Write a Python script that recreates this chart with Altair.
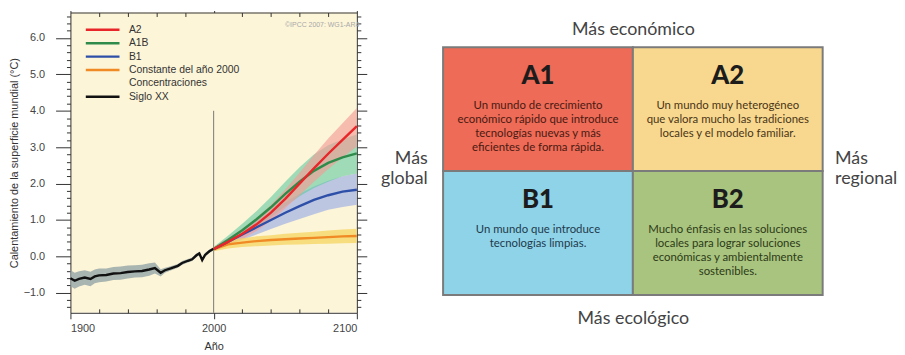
import altair as alt
import pandas as pd

# ---------------- Left panel data ----------------
hist_years = [1900, 1903, 1906, 1910, 1914, 1917, 1920, 1925, 1930, 1935, 1940, 1945, 1950, 1955,
              1959, 1963, 1966, 1970, 1975, 1978, 1982, 1985, 1988, 1990, 1992, 1994, 1997, 2000]
hist_mean = [-0.60, -0.67, -0.62, -0.58, -0.62, -0.55, -0.52, -0.51, -0.47, -0.46, -0.43, -0.41, -0.40, -0.36,
             -0.32, -0.45, -0.38, -0.33, -0.26, -0.18, -0.12, -0.08, 0.03, 0.08, -0.10, 0.04, 0.14, 0.21]
hist_low = [-0.82, -0.89, -0.83, -0.78, -0.82, -0.74, -0.71, -0.69, -0.65, -0.64, -0.61, -0.58, -0.57, -0.53,
            -0.47, -0.55, -0.45, -0.39, -0.31, -0.23, -0.17, -0.13, -0.02, 0.03, -0.15, -0.01, 0.09, 0.17]
hist_high = [-0.38, -0.45, -0.41, -0.38, -0.42, -0.36, -0.33, -0.33, -0.29, -0.28, -0.25, -0.24, -0.23, -0.19,
             -0.17, -0.35, -0.31, -0.27, -0.21, -0.13, -0.07, -0.03, 0.08, 0.13, -0.05, 0.09, 0.19, 0.25]

scen_years = [2000, 2010, 2020, 2030, 2040, 2050, 2060, 2070, 2080, 2090, 2100]
a2_mean = [0.20, 0.40, 0.62, 0.88, 1.20, 1.58, 2.00, 2.42, 2.82, 3.20, 3.58]
a2_low = [0.14, 0.30, 0.48, 0.70, 0.98, 1.32, 1.68, 2.05, 2.40, 2.72, 3.02]
a2_high = [0.26, 0.50, 0.76, 1.06, 1.42, 1.84, 2.30, 2.78, 3.24, 3.66, 4.08]
a1b_mean = [0.20, 0.45, 0.72, 1.02, 1.35, 1.72, 2.05, 2.35, 2.57, 2.72, 2.83]
a1b_low = [0.14, 0.33, 0.55, 0.80, 1.08, 1.38, 1.65, 1.88, 2.05, 2.20, 2.28]
a1b_high = [0.26, 0.57, 0.90, 1.25, 1.63, 2.05, 2.45, 2.80, 3.05, 3.22, 3.35]
b1_mean = [0.20, 0.40, 0.60, 0.80, 1.00, 1.20, 1.38, 1.55, 1.68, 1.78, 1.83]
b1_low = [0.14, 0.30, 0.46, 0.60, 0.75, 0.90, 1.03, 1.16, 1.28, 1.36, 1.42]
b1_high = [0.26, 0.50, 0.74, 0.98, 1.24, 1.48, 1.72, 1.92, 2.08, 2.20, 2.28]
const_mean = [0.20, 0.33, 0.38, 0.42, 0.45, 0.47, 0.49, 0.51, 0.53, 0.55, 0.56]
const_low = [0.14, 0.22, 0.26, 0.28, 0.30, 0.32, 0.33, 0.34, 0.35, 0.36, 0.37]
const_high = [0.26, 0.44, 0.50, 0.55, 0.58, 0.62, 0.65, 0.68, 0.71, 0.74, 0.76]

series_names = ["A2", "A1B", "B1", "Constante del año 2000", "Concentraciones", "Siglo XX"]
line_colors = ["#E8262A", "#2E8B4A", "#2D4FA8", "#F08A24", "transparent", "#111111"]

x_major = [1900, 2000, 2100]
x_minor = [1920, 1940, 1960, 1980, 2020, 2040, 2060, 2080]
y_major = [-1.0, 0.0, 1.0, 2.0, 3.0, 4.0, 5.0, 6.0]
y_minor = [-1.4, -1.2, -0.8, -0.6, -0.4, -0.2, 0.2, 0.4, 0.6, 0.8, 1.2, 1.4, 1.6, 1.8,
           2.2, 2.4, 2.6, 2.8, 3.2, 3.4, 3.6, 3.8, 4.2, 4.4, 4.6, 4.8, 5.2, 5.4, 5.6, 5.8, 6.2, 6.4, 6.6]
x_domain = [1900, 2100]
y_domain = [-1.55, 6.7]
divider = pd.DataFrame({"year": [2000], "top": [4.0], "bottom": [y_domain[0]]})

# ---------------- Right panel data ----------------
quad_cols = ["global", "regional", "global", "regional"]
quad_rows = ["económico", "económico", "ecológico", "ecológico"]
quad_codes = ["A1", "A2", "B1", "B2"]
quad_descs = [
    "Un mundo de crecimiento\neconómico rápido que introduce\ntecnologías nuevas y más\neficientes de forma rápida.",
    "Un mundo muy heterogéneo\nque valora mucho las tradiciones\nlocales y el modelo familiar.",
    "Un mundo que introduce\ntecnologías limpias.",
    "Mucho énfasis en las soluciones\nlocales para lograr soluciones\neconómicas y ambientalmente\nsostenibles.",
]
quad_fill = ["#EE6B57", "#F8D88E", "#8FD3E8", "#A9C47E"]
quad_text = ["#4A1A12", "#4A3518", "#1E3A4C", "#2C3A18"]

# ---------------- Build frames ----------------
def frame(years, mean, low, high, name):
    return pd.DataFrame({"year": years, "value": mean, "low": low, "high": high, "series": name})

hist_df = frame(hist_years, hist_mean, hist_low, hist_high, "Siglo XX")
const_df = frame(scen_years, const_mean, const_low, const_high, "Constante del año 2000")
b1_df = frame(scen_years, b1_mean, b1_low, b1_high, "B1")
a1b_df = frame(scen_years, a1b_mean, a1b_low, a1b_high, "A1B")
a2_df = frame(scen_years, a2_mean, a2_low, a2_high, "A2")
lines_df = pd.concat([hist_df, const_df, b1_df, a1b_df, a2_df], ignore_index=True)

W_LEFT, H = 289, 303

xs = alt.Scale(domain=x_domain, nice=False, zero=False)
ys = alt.Scale(domain=y_domain, nice=False, zero=False)

AX = "#333333"
FONT = "Liberation Sans"
common = dict(grid=False, tickColor=AX, domainColor=AX, labelFont=FONT, titleFont=FONT)

x_bottom = alt.Axis(orient="bottom", values=x_major, format="d", tickSize=6, labelPadding=4,
                    labelFontSize=11, labelColor="#444", title="Año", titleFontSize=11,
                    titleFontWeight="normal", titleColor="#333", titlePadding=7, **common)
x_bottom_minor = alt.Axis(orient="bottom", values=x_minor, labels=False, tickSize=4, offset=-4,
                          domain=False, title=None, **common)
x_top = alt.Axis(orient="top", values=x_major, labels=False, tickSize=2, title=None, **common)
x_top_minor = alt.Axis(orient="top", values=x_minor, labels=False, tickSize=4, offset=-4,
                       domain=False, title=None, **common)
y_left = alt.Axis(orient="left", values=y_major, format=".1f", tickSize=15, labelPadding=11,
                  labelFontSize=11, labelColor="#444",
                  title="Calentamiento de la superficie mundial (°C)", titleFontSize=11,
                  titleFontWeight="normal", titleColor="#333", titlePadding=4, **common)
y_left_minor = alt.Axis(orient="left", values=y_minor, labels=False, tickSize=4, domain=False,
                        title=None, **common)
y_right = alt.Axis(orient="right", values=y_major, labels=False, tickSize=10, title=None, **common)
y_right_minor = alt.Axis(orient="right", values=y_minor, labels=False, tickSize=4, domain=False,
                         title=None, **common)


def band(df, color, xaxis, yaxis, opacity=0.7):
    return alt.Chart(df).mark_area(color=color, opacity=opacity).encode(
        x=alt.X("year:Q", scale=xs, axis=xaxis),
        y=alt.Y("low:Q", scale=ys, axis=yaxis),
        y2="high:Q",
    )

rule = alt.Chart(divider).mark_rule(color="#777777", strokeWidth=1).encode(
    x=alt.X("year:Q", scale=xs, axis=None),
    y=alt.Y("top:Q", scale=ys, axis=None),
    y2="bottom:Q",
)

hist_band = band(hist_df, "#9AA9A9", x_bottom, y_left, 0.85)
b1_band = band(b1_df, "#A7B5E4", x_bottom_minor, y_left_minor, 0.75)
a1b_band = band(a1b_df, "#5FCAA0", x_top, y_right, 0.6)
a2_band = band(a2_df, "#F39C98", x_top_minor, y_right_minor, 0.65)
const_band = band(const_df, "#F6D768", None, None, 0.8)

legend = alt.Legend(orient="none", legendX=26, legendY=11, title=None, padding=0,
                    symbolType="M-3.4,0H3.4", symbolSize=100, symbolStrokeWidth=2.5,
                    labelFont=FONT, labelFontSize=10.5, labelColor="#333", labelOffset=20,
                    rowPadding=1.5)

lines = alt.Chart(lines_df).mark_line(strokeWidth=2.4).encode(
    x=alt.X("year:Q", scale=xs, axis=None),
    y=alt.Y("value:Q", scale=ys, axis=None),
    stroke=alt.Stroke("series:N", scale=alt.Scale(domain=series_names, range=line_colors),
                      legend=legend),
    detail="series:N",
)

left = alt.layer(rule, hist_band, b1_band, a1b_band, a2_band, const_band, lines).resolve_axis(
    x="independent", y="independent"
).properties(
    width=W_LEFT, height=H,
    view=alt.ViewBackground(fill="#FDF5D8", stroke=None),
    title=alt.TitleParams("©IPCC 2007: WG1-AR4", anchor="end", orient="top", offset=-18,
                          fontSize=7, font=FONT, color="#A8A8A8", fontWeight="normal", dx=-8),
)

# ---------------- Right panel ----------------
quad_df = pd.DataFrame({"col": quad_cols, "row": quad_rows, "code": quad_codes, "desc": quad_descs})
xq = alt.Scale(domain=["global", "regional"], paddingInner=0, paddingOuter=0)
yq = alt.Scale(domain=["económico", "ecológico"], paddingInner=0, paddingOuter=0.212, align=0.66)
QF = "Lato"
qtitle = dict(titleFont=QF, titleFontSize=18, titleFontWeight="normal", titleColor="#444",
              labels=False, domain=False, grid=False, ticks=False)

xq_top = alt.Axis(orient="top", title="Más económico", titleY=17, titleBaseline="middle", **qtitle)
xq_bottom = alt.Axis(orient="bottom", title="Más ecológico", titleY=6, titleBaseline="middle",
                     **qtitle)
yq_left = alt.Axis(orient="left", title=["Más", "global"], titleAngle=0, titleAlign="right",
                   titleBaseline="middle", titleX=-16, titleY=147, titleLineHeight=21, **qtitle)
yq_right = alt.Axis(orient="right", title=["Más", "regional"], titleAngle=0, titleAlign="left",
                    titleBaseline="middle", titleX=12, titleY=147, titleLineHeight=21, **qtitle)

rects = alt.Chart(quad_df).mark_rect(stroke="#7B7B7B", strokeWidth=2).encode(
    x=alt.X("col:N", scale=xq, axis=xq_top),
    y=alt.Y("row:N", scale=yq, axis=yq_left),
    fill=alt.Fill("code:N", scale=alt.Scale(domain=quad_codes, range=quad_fill), legend=None),
)
heads = alt.Chart(quad_df).mark_text(font=QF, fontSize=26, fontWeight=900, color="#1C1C1C",
                                     baseline="middle", dy=-33).encode(
    x=alt.X("col:N", scale=xq, axis=xq_bottom),
    y=alt.Y("row:N", scale=yq, axis=yq_right),
    text="code:N",
)
descs = alt.Chart(quad_df).mark_text(font=QF, fontSize=11.5, lineBreak="\n",
                                     lineHeight=14, baseline="top", dy=-9).encode(
    x=alt.X("col:N", scale=xq, axis=None),
    y=alt.Y("row:N", scale=yq, axis=None),
    text="desc:N",
    color=alt.Color("code:N", scale=alt.Scale(domain=quad_codes, range=quad_text), legend=None),
)

right = alt.layer(rects, heads, descs).resolve_axis(x="independent", y="independent").properties(
    width=383, height=H,
    view=alt.ViewBackground(stroke=None),
)

chart = alt.hconcat(left, right, spacing=12).properties(padding=0).configure_view(stroke=None)

chart.save("out.html", embed_options={"renderer": "svg", "actions": False})
